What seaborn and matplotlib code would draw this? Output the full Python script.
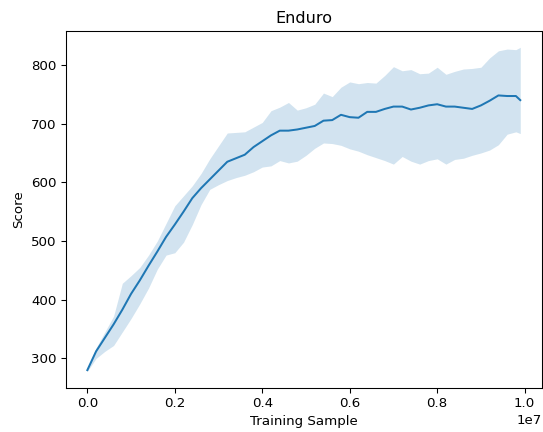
import numpy as np
import pandas as pd
import seaborn as sns
import matplotlib
matplotlib.use("Agg")
import matplotlib.pyplot as plt

# training samples (every 2e5, last point at 9.9e6)
steps = [0.0, 0.2, 0.4, 0.6, 0.8, 1.0, 1.2, 1.4, 1.6, 1.8,
         2.0, 2.2, 2.4, 2.6, 2.8, 3.0, 3.2, 3.4, 3.6, 3.8,
         4.0, 4.2, 4.4, 4.6, 4.8, 5.0, 5.2, 5.4, 5.6, 5.8,
         6.0, 6.2, 6.4, 6.6, 6.8, 7.0, 7.2, 7.4, 7.6, 7.8,
         8.0, 8.2, 8.4, 8.6, 8.8, 9.0, 9.2, 9.4, 9.6, 9.8, 9.9]

score_mean = [280, 312, 335, 358, 383, 410, 433, 458, 482, 507,
              528, 550, 573, 590, 605, 620, 635, 641, 647, 660,
              670, 680, 688, 688, 690, 693, 696, 705, 706, 715,
              711, 710, 720, 720, 725, 729, 729, 724, 727, 731,
              733, 729, 729, 727, 725, 731, 739, 748, 747, 747, 740]

score_upper = [284, 318, 345, 372, 428, 441, 455, 476, 500, 530,
               560, 577, 594, 615, 640, 662, 684, 685, 686, 694,
               702, 722, 728, 736, 723, 727, 733, 752, 746, 762,
               771, 768, 770, 769, 782, 797, 790, 792, 785, 786,
               796, 784, 789, 793, 794, 796, 812, 824, 827, 826, 830]

score_lower = [278, 300, 312, 322, 345, 368, 393, 420, 452, 476,
               480, 498, 528, 562, 588, 596, 603, 608, 612, 618,
               626, 628, 637, 633, 636, 646, 658, 667, 666, 663,
               657, 653, 647, 642, 637, 631, 644, 636, 631, 637,
               640, 631, 639, 641, 646, 650, 655, 664, 682, 686, 683]

df = pd.DataFrame({
    "Training Sample": np.array(steps) * 1e6,
    "Score": score_mean,
    "lo": score_lower,
    "hi": score_upper,
})

fig = plt.figure(figsize=(543 / 96, 432 / 96), dpi=96)
ax = fig.add_axes([0.121, 0.103, 0.877, 0.825])

sns.lineplot(data=df, x="Training Sample", y="Score", ax=ax, color="tab:blue")
ax.fill_between(df["Training Sample"], df["lo"], df["hi"], color="tab:blue", alpha=0.2, linewidth=0)

ax.set_title("Enduro")
ax.set_xlabel("Training Sample")
ax.set_ylabel("Score")

fig.savefig("out.png", dpi=96)
